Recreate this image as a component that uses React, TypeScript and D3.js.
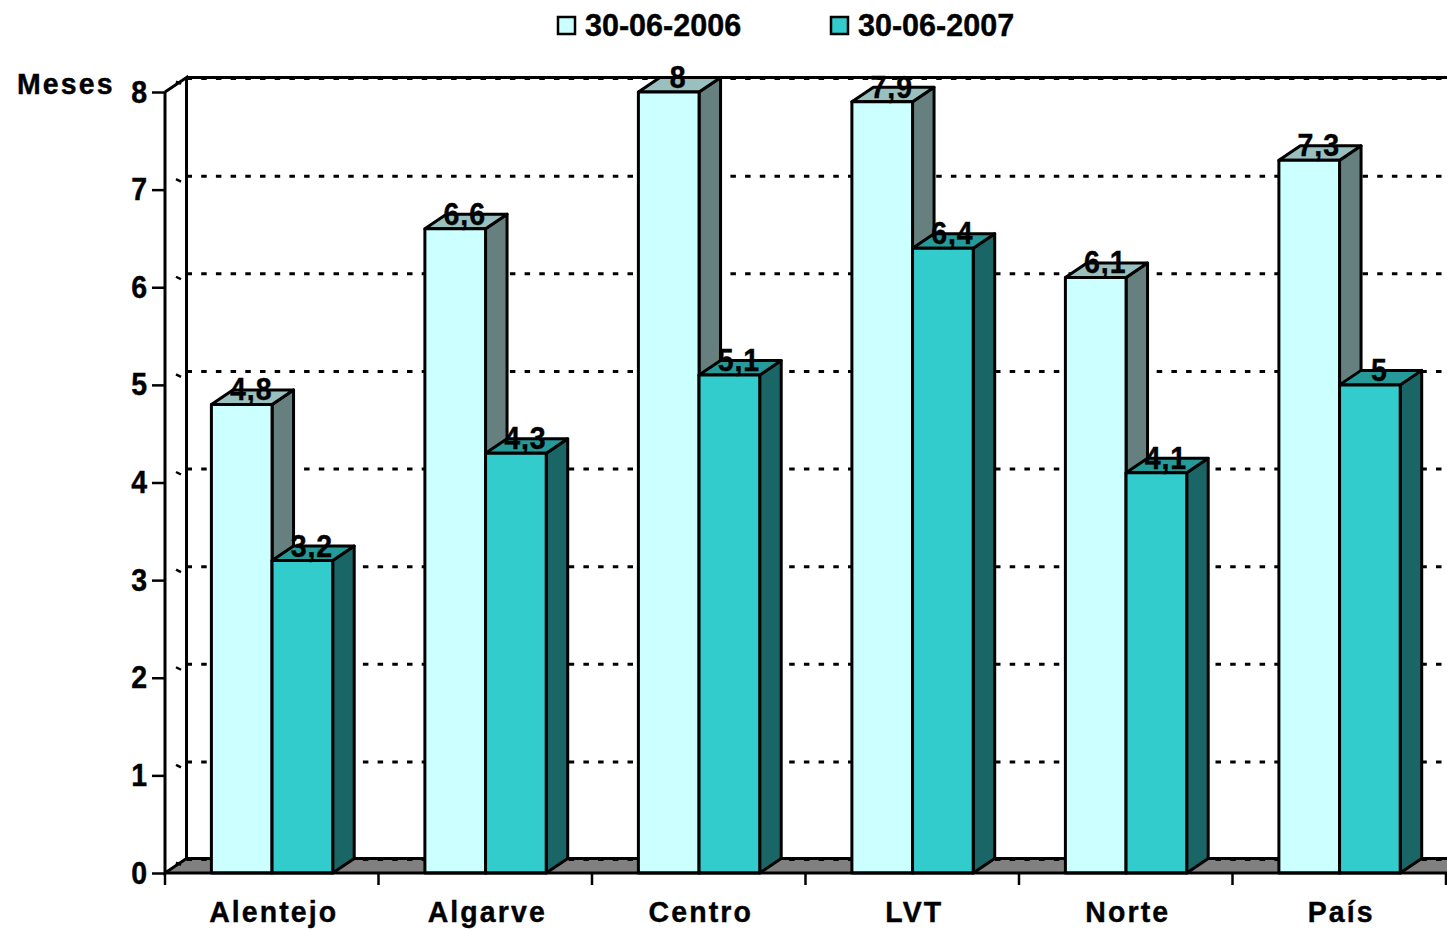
import React, { useRef, useEffect } from 'react';
import * as d3 from 'd3';

const categories = ['Alentejo', 'Algarve', 'Centro', 'LVT', 'Norte', 'País'];
const seriesNames = ['30-06-2006', '30-06-2007'];
const values2006 = [4.8, 6.6, 8, 7.9, 6.1, 7.3];
const values2007 = [3.2, 4.3, 5.1, 6.4, 4.1, 5];
const yTicks = [0, 1, 2, 3, 4, 5, 6, 7, 8];
const yLabel = 'Meses';

const frontColors = ['#ccffff', '#33cccc'];
const topColors = ['#9abfbf', '#269999'];
const sideColors = ['#668080', '#1a6666'];

const width = 1447;
const height = 930;
const depthX = 21.5;
const depthY = 14.5;
const font = '"Liberation Sans", Arial, sans-serif';

// the source text is a bit taller and narrower than plain Liberation bold
const styleText = (sel, size) =>
  sel
    .attr('font-family', font)
    .attr('font-weight', 700)
    .attr('font-size', size)
    .attr('fill', '#000')
    .attr('stroke', '#000')
    .attr('stroke-width', 0.4);

const App = () => {
  const svgRef = useRef<SVGSVGElement>(null);

  useEffect(() => {
    const svg = d3.select(svgRef.current);
    svg.selectAll('*').remove();

    const x0 = d3.scaleBand<string>().domain(categories).range([165, 1446]);
    const x1 = d3.scaleBand<string>().domain(seriesNames).range([0.3, x0.bandwidth() + 0.3]).paddingOuter(0.76);
    const y = d3.scaleLinear().domain([0, 8]).range([873, 92]);

    // floor, sits behind everything
    svg.append('path')
      .attr('d', `M165,${y(0)}L${165 + depthX},${y(0) - depthY}H${width}V${y(0)}H165Z`)
      .attr('fill', '#808080');

    // dotted gridlines on the back wall
    svg.append('g')
      .selectAll('line')
      .data(yTicks)
      .join('line')
      .attr('x1', 165 + depthX)
      .attr('x2', width)
      .attr('y1', d => y(d) - depthY + 1)
      .attr('y2', d => y(d) - depthY + 1)
      .attr('stroke', '#000')
      .attr('stroke-width', 3)
      .attr('stroke-dasharray', '5.5 9.2');

    // little dashes on the side wall
    svg.append('g')
      .selectAll('line')
      .data(yTicks)
      .join('line')
      .attr('x1', 176)
      .attr('x2', 181)
      .attr('y1', d => y(d) - 10.5)
      .attr('y2', d => y(d) - 8)
      .attr('stroke', '#000')
      .attr('stroke-width', 2.5);

    // walls
    const wall = svg.append('g').attr('fill', 'none').attr('stroke', '#000').attr('stroke-width', 3);
    wall.append('path').attr('d', `M165,${y(8)}V${y(0)}L${165 + depthX},${y(0) - depthY}V${y(8) - depthY}L165,${y(8)}`);
    wall.append('path').attr('d', `M${165 + depthX},${y(8) - depthY}H${width}`);
    wall.append('path').attr('d', `M${165 + depthX},${y(0) - depthY}H${width}`);

    const rows = categories.flatMap((c, i) => [
      { cat: c, s: 0, v: values2006[i] },
      { cat: c, s: 1, v: values2007[i] },
    ]);

    // 3d bars
    const bars = svg.append('g')
      .attr('stroke', '#000')
      .attr('stroke-width', 3)
      .attr('stroke-linejoin', 'round')
      .selectAll('g')
      .data(rows)
      .join('g');
    const left = d => x0(d.cat)! + x1(seriesNames[d.s])!;
    const bw = x1.bandwidth();
    bars.append('path')
      .attr('fill', d => sideColors[d.s])
      .attr('d', d => `M${left(d) + bw},${y(0)}V${y(d.v)}l${depthX},${-depthY}V${y(0) - depthY}Z`);
    bars.append('path')
      .attr('fill', d => topColors[d.s])
      .attr('d', d => `M${left(d)},${y(d.v)}l${depthX},${-depthY}h${bw}l${-depthX},${depthY}Z`);
    bars.append('rect')
      .attr('fill', d => frontColors[d.s])
      .attr('x', left)
      .attr('y', d => y(d.v))
      .attr('width', bw)
      .attr('height', d => y(0) - y(d.v));

    // value labels
    svg.append('g')
      .selectAll('text')
      .data(rows)
      .join('text')
      .attr('transform', d => `translate(${left(d) + bw / 2 + 9.5},${y(d.v) - 4}) scale(0.92,1)`)
      .attr('text-anchor', 'middle')
      .attr('letter-spacing', 1)
      .call(styleText, 31)
      .text(d => String(d.v).replace('.', ','));

    // y axis
    const yAxis = svg.append('g')
      .attr('transform', 'translate(165,0)')
      .call(d3.axisLeft(y).tickValues(yTicks).tickFormat(d3.format('d')).tickSize(13));
    yAxis.select('.domain').remove();
    yAxis.selectAll('line').attr('stroke', '#000').attr('stroke-width', 2.5);
    yAxis.selectAll('text')
      .attr('x', 0)
      .attr('dy', 0)
      .attr('transform', 'translate(-18,10) scale(0.92,1)')
      .call(styleText, 31);

    // x axis, ticks fall between categories
    svg.append('line')
      .attr('x1', 165).attr('x2', width)
      .attr('y1', y(0)).attr('y2', y(0))
      .attr('stroke', '#000').attr('stroke-width', 3);
    svg.append('g')
      .selectAll('line')
      .data([...categories.map(c => x0(c)!), 1446])
      .join('line')
      .attr('x1', d => d).attr('x2', d => d)
      .attr('y1', y(0)).attr('y2', 885)
      .attr('stroke', '#000').attr('stroke-width', 2.5);
    svg.append('g')
      .selectAll('text')
      .data(categories)
      .join('text')
      .attr('transform', d => `translate(${x0(d)! + x0.bandwidth() / 2 + 2},922) scale(0.95,1)`)
      .attr('text-anchor', 'middle')
      .attr('letter-spacing', 2.2)
      .call(styleText, 30)
      .text(d => d);

    svg.append('text')
      .attr('transform', 'translate(17,94) scale(0.95,1)')
      .attr('letter-spacing', 2.2)
      .call(styleText, 30)
      .text(yLabel);

    // legend
    const legendX = d3.scaleOrdinal<string, number>().domain(seriesNames).range([557, 830]);
    const legend = svg.append('g')
      .selectAll('g')
      .data(seriesNames)
      .join('g')
      .attr('transform', d => `translate(${legendX(d)},0)`);
    legend.append('rect')
      .attr('x', 1).attr('y', 17)
      .attr('width', 17).attr('height', 17)
      .attr('fill', (d, i) => frontColors[i])
      .attr('stroke', '#000')
      .attr('stroke-width', 2.5);
    legend.append('text')
      .attr('transform', 'translate(28,36) scale(0.985,1)')
      .call(styleText, 31)
      .text(d => d);
  }, []);

  return (
    <svg
      ref={svgRef}
      width={width}
      height={height}
      viewBox={`0 0 ${width} ${height}`}
      style={{ position: 'absolute', left: 0, top: 0, background: '#fff' }}
    />
  );
};

export default App;
